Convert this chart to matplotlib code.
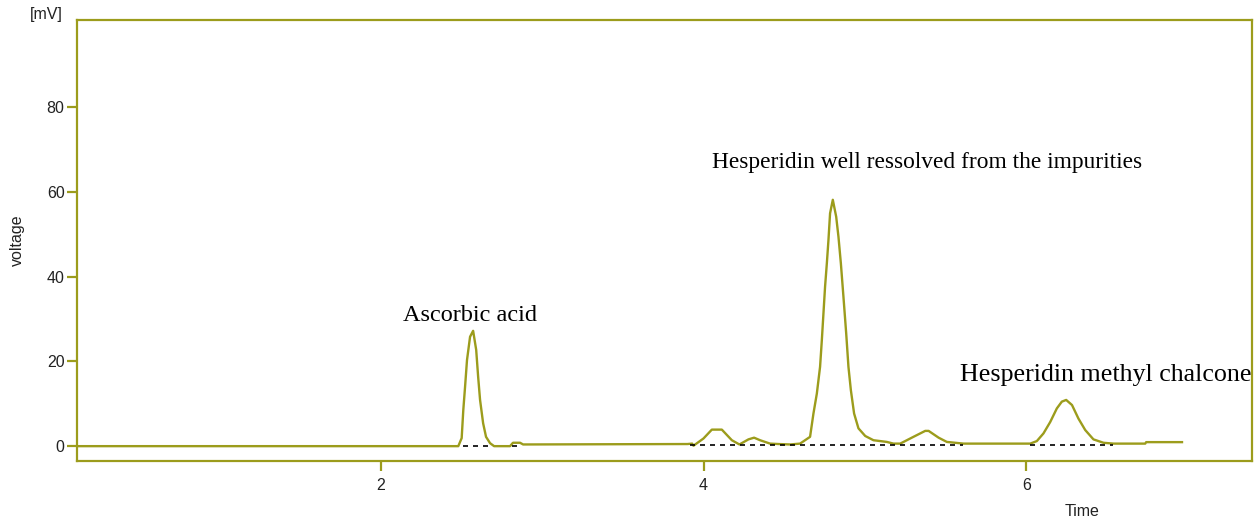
import numpy as np
import matplotlib.pyplot as plt

# chromatogram trace (time in min, signal in mV)
tempo = [0.0, 2.479, 2.500, 2.510, 2.521, 2.533, 2.552, 2.571, 2.590, 2.602,
         2.614, 2.633, 2.651, 2.676, 2.701, 2.800, 2.818, 2.862, 2.881, 3.900,
         3.929, 3.937, 3.999, 4.051, 4.113, 4.175, 4.222, 4.278, 4.313, 4.350,
         4.412, 4.464, 4.536, 4.598, 4.660, 4.681, 4.702, 4.722, 4.733, 4.743,
         4.753, 4.764, 4.774, 4.784, 4.801, 4.822, 4.836, 4.851, 4.867, 4.884,
         4.898, 4.913, 4.933, 4.960, 5.002, 5.053, 5.136, 5.177, 5.219, 5.301,
         5.374, 5.395, 5.457, 5.508, 5.611, 6.025, 6.066, 6.107, 6.149, 6.190,
         6.221, 6.248, 6.284, 6.324, 6.366, 6.417, 6.479, 6.541, 6.738, 6.744,
         6.966]
segnale = [0.0, 0.0, 1.9, 8.5, 14.0, 20.3, 25.8, 27.2, 22.7, 16.4,
           10.9, 5.4, 2.2, 0.7, 0.0, 0.0, 0.8, 0.8, 0.4, 0.5,
           0.6, 0.1, 1.8, 3.9, 3.9, 1.4, 0.4, 1.6, 2.0, 1.4,
           0.6, 0.5, 0.4, 0.6, 2.2, 7.7, 12.4, 18.7, 25.0, 31.3,
           37.6, 43.1, 48.6, 54.9, 58.1, 54.1, 49.4, 43.1, 35.2, 26.6,
           18.7, 13.2, 7.7, 4.2, 2.4, 1.4, 1.0, 0.6, 0.6, 2.2,
           3.6, 3.6, 2.0, 1.0, 0.6, 0.6, 1.2, 3.0, 5.7, 8.9,
           10.5, 10.9, 9.7, 6.5, 3.8, 1.6, 0.8, 0.6, 0.6, 0.95,
           0.95]

# integration baselines (start, end, level)
base_inizio = [2.51, 2.81, 3.916, 6.025]
base_fine = [2.69, 2.87, 5.61, 6.54]
base_livello = [0.05, 0.05, 0.3, 0.3]

etichette = ["Ascorbic acid", "Hesperidin well ressolved from the impurities",
             "Hesperidin methyl chalcone"]
etich_x = [2.136, 4.051, 5.59]
etich_y = [29.5, 65.5, 15.4]
etich_size = [17.5, 16.8, 18.7]

oliva = "#9c9c1c"

fig = plt.figure(figsize=(12.58, 5.25), dpi=100)
ax = fig.add_axes([77/1258, 1-461/525, (1252-77)/1258, (461-20)/525])

ax.plot(tempo, segnale, color=oliva, lw=1.7)
for a, b, l in zip(base_inizio, base_fine, base_livello):
    ax.plot([a, b], [l, l], color="black", lw=1.2, ls=(0, (3, 3)))

for s, x, y, fs in zip(etichette, etich_x, etich_y, etich_size):
    ax.text(x, y, s, family="Liberation Serif", fontsize=fs,
            ha="left", va="baseline")

ax.set_xlim(0.115, 7.40)
ax.set_ylim(-3.5, 100.5)
ax.set_xticks([2, 4, 6])
ax.set_yticks([0, 20, 40, 60, 80])
for sp in ax.spines.values():
    sp.set_color(oliva)
    sp.set_linewidth(1.6)
ax.tick_params(axis="both", color=oliva, width=1.6, length=7,
               labelsize=11.5, labelcolor="#222222")
ax.tick_params(axis="y", pad=2)
ax.tick_params(axis="x", pad=5)
for lab in ax.get_xticklabels() + ax.get_yticklabels():
    lab.set_family("Liberation Sans")

fig.text(63/1258, 1-15/525, "[mV]", family="Liberation Sans", fontsize=11.5,
         ha="right", va="center", color="#222222")
fig.text(17/1258, 1-240/525, "voltage", family="Liberation Sans",
         fontsize=11.5, rotation=90, ha="center", va="center", color="#222222")
fig.text(1082/1258, 1-512/525, "Time", family="Liberation Sans",
         fontsize=11.5, ha="center", va="center", color="#222222")

fig.savefig("out.png", dpi=100)
